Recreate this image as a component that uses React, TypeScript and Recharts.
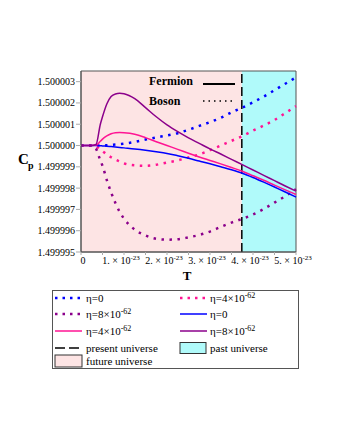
import React from 'react';
import { ComposedChart, Line, XAxis, YAxis, ReferenceArea, ReferenceLine } from 'recharts';

// T in units of 1e-23
const tGrid = [0, 0.25, 0.35, 0.45, 0.5, 0.6, 0.7, 0.8, 0.9, 1, 1.25, 1.5, 1.75, 2, 2.25, 2.5, 2.75, 3, 3.25, 3.5, 3.75, 4, 4.25, 4.5, 4.75, 5];

// Cp - 1.5, in units of 1e-6
const bosonEta0 = [0, 0, 0, 0, 0, 0.01, 0.03, 0.05, 0.07, 0.09, 0.17, 0.28, 0.38, 0.47, 0.58, 0.74, 0.92, 1.1, 1.3, 1.56, 1.78, 2.03, 2.3, 2.6, 2.9, 3.2];
const bosonEta4 = [0, 0, -0.04, -0.18, -0.26, -0.42, -0.55, -0.66, -0.75, -0.84, -0.93, -0.95, -0.9, -0.8, -0.7, -0.56, -0.42, -0.22, 0, 0.22, 0.44, 0.7, 0.94, 1.2, 1.52, 1.85];
const bosonEta8 = [0, 0, -0.15, -0.7, -0.95, -1.62, -2.2, -2.7, -3.12, -3.43, -3.95, -4.22, -4.38, -4.42, -4.4, -4.31, -4.2, -4.04, -3.82, -3.62, -3.44, -3.24, -2.98, -2.68, -2.38, -2.05];
const fermionEta0 = [0, 0, 0, -0.01, -0.02, -0.03, -0.05, -0.07, -0.09, -0.11, -0.16, -0.22, -0.29, -0.37, -0.48, -0.6, -0.73, -0.86, -1.0, -1.14, -1.3, -1.5, -1.72, -1.95, -2.18, -2.42];
const fermionEta4 = [0, 0, 0.02, 0.2, 0.3, 0.45, 0.55, 0.6, 0.61, 0.6, 0.53, 0.37, 0.18, 0, -0.18, -0.36, -0.54, -0.7, -0.86, -1.03, -1.21, -1.42, -1.63, -1.86, -2.08, -2.3];
const fermionEta8 = [0, 0, 0.05, 1.0, 1.35, 1.95, 2.3, 2.42, 2.45, 2.43, 2.2, 1.78, 1.35, 0.97, 0.65, 0.36, 0.1, -0.16, -0.4, -0.65, -0.9, -1.15, -1.4, -1.65, -1.9, -2.14];

const yTicks = [1.499995, 1.499996, 1.499997, 1.499998, 1.499999, 1.5, 1.500001, 1.500002, 1.500003];
const xTicks = [0, 0.5, 1, 1.5, 2, 2.5, 3, 3.5, 4, 4.5, 5];
const presentT = 3.74;

const series = [
  { key: 'b0', values: bosonEta0, color: '#0000ff', dotted: true, eta: '0' },
  { key: 'b4', values: bosonEta4, color: '#ff1493', dotted: true, eta: '4' },
  { key: 'b8', values: bosonEta8, color: '#8b008b', dotted: true, eta: '8' },
  { key: 'f0', values: fermionEta0, color: '#0000ff', dotted: false, eta: '0' },
  { key: 'f4', values: fermionEta4, color: '#ff1493', dotted: false, eta: '4' },
  { key: 'f8', values: fermionEta8, color: '#8b008b', dotted: false, eta: '8' },
];

const data = tGrid.map((t, i) => {
  const row: Record<string, number> = { t };
  series.forEach((s) => {
    row[s.key] = 1.5 + s.values[i] * 1e-6;
  });
  return row;
});

const FONT = 'Liberation Serif, Times New Roman, serif';
const PINK_BG = '#fde4e4';
const CYAN_BG = '#b0fafa';

const XTick = (props: any) => {
  const { x, y, payload } = props;
  const v = payload.value;
  if (v !== Math.round(v)) return null;
  if (v === 0) {
    return (
      <text x={x + 2} y={y + 7} textAnchor="middle" fontSize={10} fontFamily={FONT} fill="#000">0</text>
    );
  }
  return (
    <text x={x - 3} y={y + 7} textAnchor="middle" fontSize={10} fontFamily={FONT} fill="#000">
      {v}. × 10<tspan dy={-4} fontSize={7}>-23</tspan>
    </text>
  );
};

const EtaLabel = ({ x, y, eta }: { x: number; y: number; eta: string }) => (
  <text x={x} y={y} fontSize={11} fontFamily={FONT} fill="#000">
    {eta === '0' ? 'η=0' : (
      <>
        {`η=${eta}×10`}
        <tspan dy={-4} fontSize={8}>-62</tspan>
      </>
    )}
  </text>
);

const Overlay = () => {
  const rows = [298, 314, 331, 348, 361];
  const cols = [{ sx: 55, tx: 86 }, { sx: 180, tx: 210 }];
  return (
    <svg width={340} height={440} style={{ position: 'absolute', left: 0, top: 0, pointerEvents: 'none' }}>
      {/* axis titles */}
      <text x={18} y={164} fontSize={15} fontWeight="bold" fontFamily={FONT}>C</text>
      <text x={28} y={169} fontSize={10} fontWeight="bold" fontFamily={FONT}>p</text>
      <text x={187} y={280} textAnchor="middle" fontSize={13} fontWeight="bold" fontFamily={FONT}>T</text>

      {/* Fermion / Boson key */}
      <text x={149} y={85} fontSize={12} fontWeight="bold" fontFamily={FONT}>Fermion</text>
      <line x1={203} x2={235} y1={84} y2={84} stroke="#000" strokeWidth={2} />
      <text x={149} y={105} fontSize={12} fontWeight="bold" fontFamily={FONT}>Boson</text>
      <line x1={203} x2={235} y1={101} y2={101} stroke="#000" strokeWidth={1.5} strokeDasharray="1.5 4" />

      {/* legend box */}
      <rect x={52.5} y={290.5} width={246} height={78} fill="#fff" stroke="#555" />
      {series.map((s, i) => {
        const r = rows[Math.floor(i / 2)];
        const c = cols[i % 2];
        return (
          <g key={s.key}>
            <line x1={c.sx} x2={c.sx + 27} y1={r} y2={r} stroke={s.color}
              strokeWidth={s.dotted ? 2.5 : 1.5} strokeDasharray={s.dotted ? '2.5 5' : undefined} />
            <EtaLabel x={c.tx} y={r + 3.5} eta={s.eta} />
          </g>
        );
      })}
      <line x1={cols[0].sx} x2={cols[0].sx + 27} y1={rows[3]} y2={rows[3]} stroke="#000" strokeWidth={1.5} strokeDasharray="10 4" />
      <text x={cols[0].tx} y={rows[3] + 3.5} fontSize={11} fontFamily={FONT}>present universe</text>
      <rect x={cols[1].sx} y={rows[3] - 5.5} width={26} height={11} fill={CYAN_BG} stroke="#333" />
      <text x={cols[1].tx} y={rows[3] + 3.5} fontSize={11} fontFamily={FONT}>past universe</text>
      <rect x={cols[0].sx} y={rows[4] - 6} width={27} height={12} fill={PINK_BG} stroke="#333" />
      <text x={cols[0].tx} y={rows[4] + 3.5} fontSize={11} fontFamily={FONT}>future universe</text>
    </svg>
  );
};

export default function App() {
  return (
    <div style={{ position: 'absolute', left: 0, top: 0, width: 340, height: 440, background: '#fff' }}>
      <ComposedChart width={340} height={290} data={data} margin={{ top: 71, right: 44, left: 0, bottom: 0 }}>
        <XAxis dataKey="t" type="number" domain={[0, 5]} ticks={xTicks} height={38}
          axisLine={{ stroke: '#555' }} tickLine={{ stroke: '#aaa' }} tickSize={3} tick={<XTick />} interval={0} />
        <YAxis type="number" domain={[1.499995, 1.5000035]} ticks={yTicks} width={81} allowDataOverflow
          tickFormatter={(v: number) => v.toFixed(6)} axisLine={{ stroke: '#555' }} tickLine={{ stroke: '#aaa' }}
          tickSize={5} tickMargin={1} interval={0}
          tick={{ fontSize: 10, fontFamily: FONT, fill: '#000' }} />
        <ReferenceArea x1={0} x2={presentT} y1={1.499995} y2={1.5000035} fill={PINK_BG} fillOpacity={1} stroke="none" />
        <ReferenceArea x1={presentT} x2={5} y1={1.499995} y2={1.5000035} fill={CYAN_BG} fillOpacity={1} stroke="none" />
        <ReferenceLine x={presentT} stroke="#000" strokeWidth={1.5} strokeDasharray="9 4" />
        {series.map((s) => (
          <Line key={s.key} type="monotone" dataKey={s.key} stroke={s.color}
            strokeWidth={s.dotted ? 2.5 : 1.5} strokeDasharray={s.dotted ? '2.5 5.5' : undefined}
            dot={false} activeDot={false} isAnimationActive={false} />
        ))}
        <ReferenceArea x1={0} x2={5} y1={1.499995} y2={1.5000035} fill="none" stroke="#555" strokeWidth={1} />
      </ComposedChart>
      <Overlay />
    </div>
  );
}
